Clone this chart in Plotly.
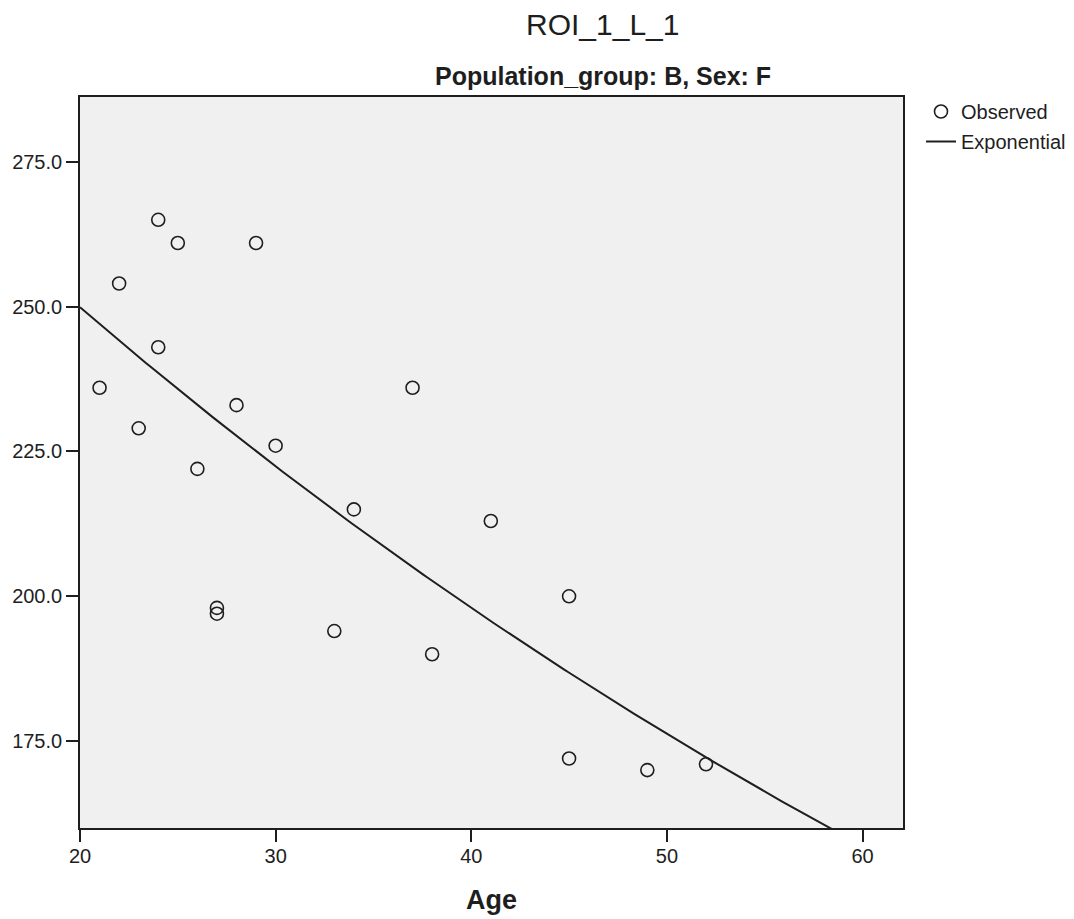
import numpy as np
import plotly.graph_objects as go

age = [21, 22, 23, 24, 24, 25, 26, 27, 27, 28, 29, 30, 33, 34, 37, 38, 41, 45, 45, 49, 52]
roi = [236, 254, 229, 265, 243, 261, 222, 198, 197, 233, 261, 226, 194, 215, 236, 190, 213, 200, 172, 170, 171]

x_tick_vals = [20, 30, 40, 50, 60]
y_tick_vals = [175, 200, 225, 250, 275]
x_tick_text = [str(v) for v in x_tick_vals]
y_tick_text = [f"{v:.1f}" for v in y_tick_vals]

title_text = "ROI_1_L_1"
subtitle_text = "Population_group: B, Sex: F"
x_title = "Age"

X_RANGE = [20, 62.07]
Y_RANGE = [160.0, 286.2]

# Exponential fit (least squares on ln y), as SPSS curve estimation does
b, ln_a = np.polyfit(np.array(age, float), np.log(np.array(roi, float)), 1)
fit_x = np.linspace(X_RANGE[0], X_RANGE[1], 200)
fit_y = np.exp(ln_a) * np.exp(b * fit_x)

FONT = "Liberation Sans, Arial, sans-serif"
INK = "#1e1e1e"

fig = go.Figure()
fig.add_trace(go.Scatter(
    x=age, y=roi, mode="markers", name="Observed", legendgroup="a",
    marker=dict(symbol="circle-open", size=13, color=INK, line=dict(width=1.6, color=INK)),
))
fig.add_trace(go.Scatter(
    x=fit_x, y=fit_y, mode="lines", name="Exponential", legendgroup="b",
    line=dict(color=INK, width=2),
))

OFF = 8  # page body margin
W, H = 1074 - 2 * OFF, 919 - OFF
# target plot area in screen pixels: x 80..903, y 97..828
L = 80 - OFF
T = 97 - OFF
R = W - (903 - OFF)
B = H - (828 - OFF)

def py(p):  # screen pixel y -> paper
    return (H - B - (p - OFF)) / (H - T - B)

def px(p):
    return ((p - OFF) - L) / (W - L - R)

axis_common = dict(showgrid=False, zeroline=False, showline=True, linecolor=INK, linewidth=1.6,
                   mirror=True, ticks="outside", ticklen=12, tickwidth=1.6, tickcolor=INK,
                   tickfont=dict(size=20, color=INK), automargin=False)

fig.update_layout(
    width=W, height=H,
    margin=dict(l=L, r=R, t=T, b=B, pad=0, autoexpand=False),
    paper_bgcolor="white", plot_bgcolor="#F0F0F0",
    font=dict(family=FONT, color=INK),
    showlegend=True,
    legend=dict(x=px(921), y=py(92), xanchor="left", yanchor="top",
                font=dict(size=20, color=INK), bgcolor="rgba(0,0,0,0)",
                tracegroupgap=1, itemwidth=30),
    xaxis=dict(range=X_RANGE, tickmode="array", tickvals=x_tick_vals, ticktext=x_tick_text,
               ticklabelstandoff=-3, **axis_common),
    yaxis=dict(range=Y_RANGE, tickmode="array", tickvals=y_tick_vals, ticktext=y_tick_text,
               **axis_common),
    annotations=[
        dict(text=title_text, xref="paper", yref="paper", x=px(602), y=py(24),
             xanchor="center", yanchor="middle", showarrow=False,
             font=dict(size=30, color=INK, family=FONT)),
        dict(text=f"<b>{subtitle_text}</b>", xref="paper", yref="paper", x=px(603), y=py(76),
             xanchor="center", yanchor="middle", showarrow=False,
             font=dict(size=25, color=INK, family=FONT)),
        dict(text=f"<b>{x_title}</b>", xref="paper", yref="paper", x=px(491), y=py(900),
             xanchor="center", yanchor="middle", showarrow=False,
             font=dict(size=27, color=INK, family=FONT)),
    ],
)

fig.write_html("out.html")
